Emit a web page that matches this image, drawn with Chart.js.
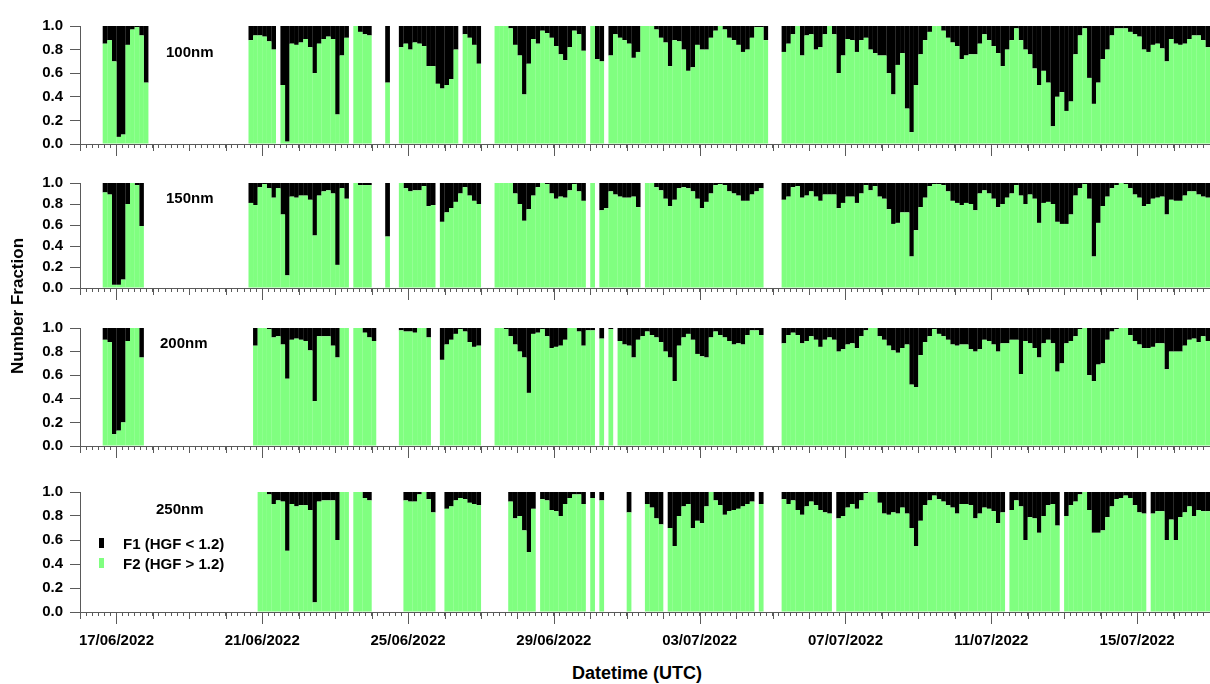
<!DOCTYPE html>
<html>
<head>
<meta charset="utf-8">
<title>HGF number fraction</title>
<script src="https://cdn.jsdelivr.net/npm/chart.js@4.4.1/dist/chart.umd.min.js"></script>
<style>
  html, body { margin: 0; padding: 0; background: #fff; }
  #wrap { position: relative; width: 1210px; height: 684px; overflow: hidden;
          font-family: 'Liberation Sans', Arial, sans-serif; font-weight: bold; color: #000; }
  #wrap canvas { position: absolute; left: 0; }
  .txt { position: absolute; white-space: nowrap; line-height: 1; transform: translateY(-50%); font-size: 15px; }
  .mark { position: absolute; width: 5px; height: 10px; }
  #ytitle { position: absolute; left: 18px; top: 306px; font-size: 17px; white-space: nowrap;
            transform: translate(-50%, -50%) rotate(-90deg); }
  #xtitle { position: absolute; left: 637px; top: 673px; font-size: 18px; white-space: nowrap;
            transform: translate(-50%, -50%); }
</style>
</head>
<body>
<div id="wrap">
  <canvas id="c100" width="1210" height="150" style="top:10px"></canvas>
  <canvas id="c150" width="1210" height="137" style="top:167px"></canvas>
  <canvas id="c200" width="1210" height="150" style="top:312px"></canvas>
  <canvas id="c250" width="1210" height="186" style="top:476px"></canvas>

  <div class="txt" style="left:166px; top:51px">100nm</div>
  <div class="txt" style="left:166px; top:197px">150nm</div>
  <div class="txt" style="left:160px; top:342px">200nm</div>
  <div class="txt" style="left:156px; top:508px">250nm</div>

  <div class="mark" id="mark1" style="left:99px; top:538px"></div>
  <div class="txt" style="left:123px; top:543px">F1 (HGF &lt; 1.2)</div>
  <div class="mark" id="mark2" style="left:99px; top:558px"></div>
  <div class="txt" style="left:123px; top:563px">F2 (HGF &gt; 1.2)</div>

  <div id="ytitle">Number Fraction</div>
  <div id="xtitle">Datetime (UTC)</div>
</div>

<script>
const _ = null;

// 3-hourly bins from 16/06/2022 00:00 UTC, F2 number fraction (HGF > 1.2), one row per day
const binHours = 3;
const totalHours = 744;

const f2_100nm = [
  _,_,_,_,_,.85,.88,.70,
  .06,.08,.84,.97,.99,.92,.52,_,
  _,_,_,_,_,_,_,_,
  _,_,_,_,_,_,_,_,
  _,_,_,_,_,.88,.92,.92,
  .91,.87,.80,_,.50,.02,.85,.84,
  .86,.89,.82,.60,.85,.89,.91,.89,
  .25,.75,.90,_,1,.95,.93,.92,
  _,_,_,.52,_,_,.82,.85,
  .80,.86,.85,.83,.66,.66,.51,.47,
  .50,.55,.80,_,.93,.90,.84,.68,
  _,_,_,1,1,1,.98,.84,
  .75,.42,.68,.89,.85,.96,.94,.90,
  .83,.76,.71,.82,.96,.93,.79,_,
  1,.72,.70,_,.75,.93,.90,.88,
  .85,.73,.78,1,1,1,.97,.90,
  .86,.66,.88,.87,.80,.62,.65,.84,
  .80,.80,.90,.96,1,.97,.90,.88,
  .84,.78,.80,.90,.99,.99,.88,_,
  _,_,.78,.85,.93,1,.75,.92,
  .93,.80,.82,.93,1,.93,.60,.75,
  .89,.88,.78,.88,.90,.80,.77,.75,
  .75,.60,.42,.67,.77,.30,.10,.50,
  .76,.88,.95,1,1,.96,.90,.86,
  .83,.72,.75,.76,.76,.85,.93,.88,
  .83,.77,.66,.80,.88,.98,.88,.80,
  .76,.64,.50,.62,.52,.15,.40,.44,
  .28,.36,.76,.92,.98,.56,.34,.52,
  .72,.80,.92,.98,.98,.98,.95,.93,
  .91,.80,.78,.84,.85,.81,.70,.89,
  .85,.84,.85,.89,.92,.92,.88,.82
];

const f2_150nm = [
  _,_,_,_,_,.91,.89,.03,
  .03,.08,.80,1,.98,.59,_,_,
  _,_,_,_,_,_,_,_,
  _,_,_,_,_,_,_,_,
  _,_,_,_,_,.81,.79,.96,
  .99,.95,.86,.95,.70,.12,.87,.86,
  .88,.88,.84,.50,.88,.92,.93,.90,
  .22,.95,.85,_,1,.98,.98,.98,
  _,_,_,.49,_,_,1,.95,
  .92,.93,.93,.97,.78,.79,_,.63,
  .72,.76,.82,.90,.96,.88,.83,.80,
  _,_,_,1,1,1,1,.90,
  .80,.64,.75,.88,.96,1,.99,.90,
  .85,.87,.86,.93,.99,.92,.83,_,
  1,_,.74,.76,.92,.89,.87,.86,
  .86,.87,.77,_,1,1,.96,.93,
  .85,.78,.84,.95,.96,.95,.92,.85,
  .76,.82,.90,.98,.99,.98,.92,.90,
  .88,.83,.83,.89,.92,.95,_,_,
  _,_,.84,.87,.96,.97,.86,.88,
  .92,.87,.83,.89,.89,.89,.76,.81,
  .87,.87,.81,.90,.98,.93,.97,.87,
  .85,.75,.61,.62,.72,.72,.30,.55,
  .77,.86,.97,.99,.99,.98,.92,.83,
  .81,.79,.81,.80,.74,.90,.93,.90,
  .85,.77,.80,.86,.90,.98,.88,.80,
  .89,.85,.62,.81,.82,.80,.63,.61,
  .61,.70,.88,.95,.99,.85,.30,.62,
  .78,.87,.95,.98,1,.99,.95,.89,
  .86,.78,.80,.85,.86,.87,.70,.84,
  .83,.83,.88,.92,.92,.89,.87,.86
];

const f2_200nm = [
  _,_,_,_,_,.90,.88,.10,
  .13,.20,.89,1,1,.75,_,_,
  _,_,_,_,_,_,_,_,
  _,_,_,_,_,_,_,_,
  _,_,_,_,_,_,.85,1,
  1,.99,.92,.93,.86,.57,.90,.91,
  .90,.89,.81,.38,.93,.93,.93,.85,
  .75,1,1,_,1,1,.96,.92,
  .89,_,_,_,_,_,.98,.97,
  .97,.96,1,1,.92,_,_,.73,
  .86,.90,.95,.99,.97,.88,.84,.85,
  _,_,_,1,1,.99,.93,.86,
  .80,.75,.45,.95,.96,.99,.93,.83,
  .84,.85,.90,1,1,.97,.85,.98,
  .98,_,.91,_,.99,_,.89,.86,
  .85,.75,.90,.93,.97,.94,.92,.88,
  .80,.75,.55,.85,.92,.95,.90,.78,
  .76,.75,.92,.97,.94,.92,.89,.86,
  .87,.86,.94,.98,.98,.94,_,_,
  _,_,.87,.94,.96,.94,.87,.89,
  .93,.90,.84,.90,.92,.90,.80,.82,
  .86,.87,.83,.93,.98,1,1,.93,
  .90,.85,.81,.79,.83,.86,.52,.50,
  .77,.88,.93,.99,.95,.93,.90,.86,
  .85,.86,.86,.82,.80,.82,.90,.89,
  .86,.80,.87,.87,.90,.90,.61,.89,
  .87,.83,.75,.87,.90,.87,.63,.70,
  .87,.89,.93,.99,1,.60,.55,.69,
  .70,.90,.97,.99,1,1,.94,.89,
  .86,.83,.83,.84,.87,.87,.65,.80,
  .80,.80,.85,.90,.91,.88,.93,.89
];

const f2_250nm = [
  _,_,_,_,_,_,_,_,
  _,_,_,_,_,_,_,_,
  _,_,_,_,_,_,_,_,
  _,_,_,_,_,_,_,_,
  _,_,_,_,_,_,_,1,
  1,.98,.90,.93,.92,.51,.90,.88,
  .89,.89,.85,.08,.92,.93,.93,.93,
  .60,1,1,_,1,1,.95,.93,
  _,_,_,_,_,_,_,.93,
  .92,.92,.98,1,.94,.83,_,_,
  .86,.88,.93,.95,.94,.91,.90,.89,
  _,_,_,_,_,_,.92,.78,
  .80,.68,.50,.86,_,.94,.93,.85,
  .84,.80,.90,.95,.98,.98,.90,_,
  .95,_,.93,_,_,_,_,_,
  .83,_,_,_,.90,.87,.78,.73,
  _,.70,.55,.80,.88,.90,.70,.76,
  .74,.88,1,.93,.89,.81,.84,.85,
  .86,.88,.90,.92,_,.90,_,_,
  _,_,.94,.90,.93,.85,.81,.88,
  .92,.89,.85,.83,.82,_,.78,.80,
  .87,.90,.86,.93,.99,1,1,.91,
  .82,.81,.83,.82,.87,.82,.70,.55,
  .76,.89,.93,.97,.94,.92,.89,.87,
  .82,.90,.90,.89,.78,.82,.87,.86,
  .84,.74,.83,_,.85,.93,.88,.60,
  .79,.78,.66,.80,.89,.90,.72,_,
  .80,.89,.92,.98,1,.85,.66,.66,
  .68,.79,.88,.94,.95,.97,.95,.89,
  .83,.82,_,.82,.84,.84,.60,.77,
  .60,.79,.83,.88,.80,.85,.84,.84
];

const dateLabelHours = [24, 120, 216, 312, 408, 504, 600, 696];
const dateLabels = ['17/06/2022', '21/06/2022', '25/06/2022', '29/06/2022',
                    '03/07/2022', '07/07/2022', '11/07/2022', '15/07/2022'];
const yTicks = [0, 0.2, 0.4, 0.6, 0.8, 1.0];

const GREEN = '#80ff80';
const BLACK = '#000000';
const AXIS = '#5a5a5a';

document.getElementById('mark1').style.background = BLACK;
document.getElementById('mark2').style.background = GREEN;

Chart.defaults.font.family = "'Liberation Sans', Arial, sans-serif";
Chart.defaults.font.size = 15;
Chart.defaults.font.weight = 'bold';
Chart.defaults.color = '#000';

// longer tick marks at each day and at the labelled dates
const dayTicks = {
    id: 'dayTicks',
    afterDraw(chart) {
        const s = chart.scales.x;
        const ctx = chart.ctx;
        ctx.save();
        ctx.strokeStyle = AXIS;
        ctx.lineWidth = 1;
        s.ticks.forEach(function(t) {
            if (t.value % 24 !== 0) return;
            const len = dateLabelHours.indexOf(t.value) >= 0 ? 12 : 7;
            const x = Math.round(s.getPixelForValue(t.value)) + 0.5;
            ctx.beginPath();
            ctx.moveTo(x, s.top);
            ctx.lineTo(x, s.top + len);
            ctx.stroke();
        });
        ctx.restore();
    }
};

function points(values) {
    return values.map(function(v, i) {
        return {x: i * binHours + binHours / 2, y: v};
    });
}

function makePanel(id, f2, showDates, axisHeight) {
    const f1 = f2.map(function(v) { return v === null ? null : +(1 - v).toFixed(2); });

    return new Chart(document.getElementById(id), {
        type: 'bar',
        data: {
            datasets: [
                {label: 'F2 (HGF > 1.2)', data: points(f2), backgroundColor: GREEN, stack: 'f'},
                {label: 'F1 (HGF < 1.2)', data: points(f1), backgroundColor: BLACK, stack: 'f'}
            ]
        },
        options: {
            responsive: false,
            animation: false,
            layout: {padding: {top: 10, right: 0, bottom: 0, left: 0}},
            datasets: {bar: {barPercentage: 1.04, categoryPercentage: 1, borderWidth: 0}},
            plugins: {legend: {display: false}, tooltip: {enabled: false}},
            scales: {
                x: {
                    type: 'linear',
                    stacked: true,
                    offset: false,
                    min: 0,
                    max: totalHours,
                    grid: {display: true, offset: false, drawOnChartArea: false, drawTicks: true,
                           tickLength: 4, tickColor: AXIS},
                    border: {display: true, color: AXIS, width: 1},
                    ticks: {
                        display: showDates,
                        stepSize: 4,
                        autoSkip: false,
                        maxRotation: 0,
                        padding: 16,
                        callback: function(v) {
                            const k = dateLabelHours.indexOf(v);
                            return k >= 0 ? dateLabels[k] : '';
                        }
                    },
                    afterFit: function(s) {
                        s.height = axisHeight;
                        s.paddingLeft = 0;
                        s.paddingRight = 0;
                    }
                },
                y: {
                    stacked: true,
                    min: 0,
                    max: 1,
                    afterBuildTicks: function(s) { s.ticks = yTicks.map(function(v) { return {value: v}; }); },
                    grid: {display: true, drawOnChartArea: false, tickLength: 10, tickColor: AXIS},
                    border: {display: true, color: AXIS, width: 1},
                    ticks: {
                        padding: 7,
                        callback: function(v) { return v.toFixed(1); }
                    },
                    afterFit: function(s) { s.width = 80; }
                }
            }
        },
        plugins: [dayTicks]
    });
}

makePanel('c100', f2_100nm, false, 14);
makePanel('c150', f2_150nm, false, 14);
makePanel('c200', f2_200nm, false, 14);
makePanel('c250', f2_250nm, true, 50);
</script>
</body>
</html>
